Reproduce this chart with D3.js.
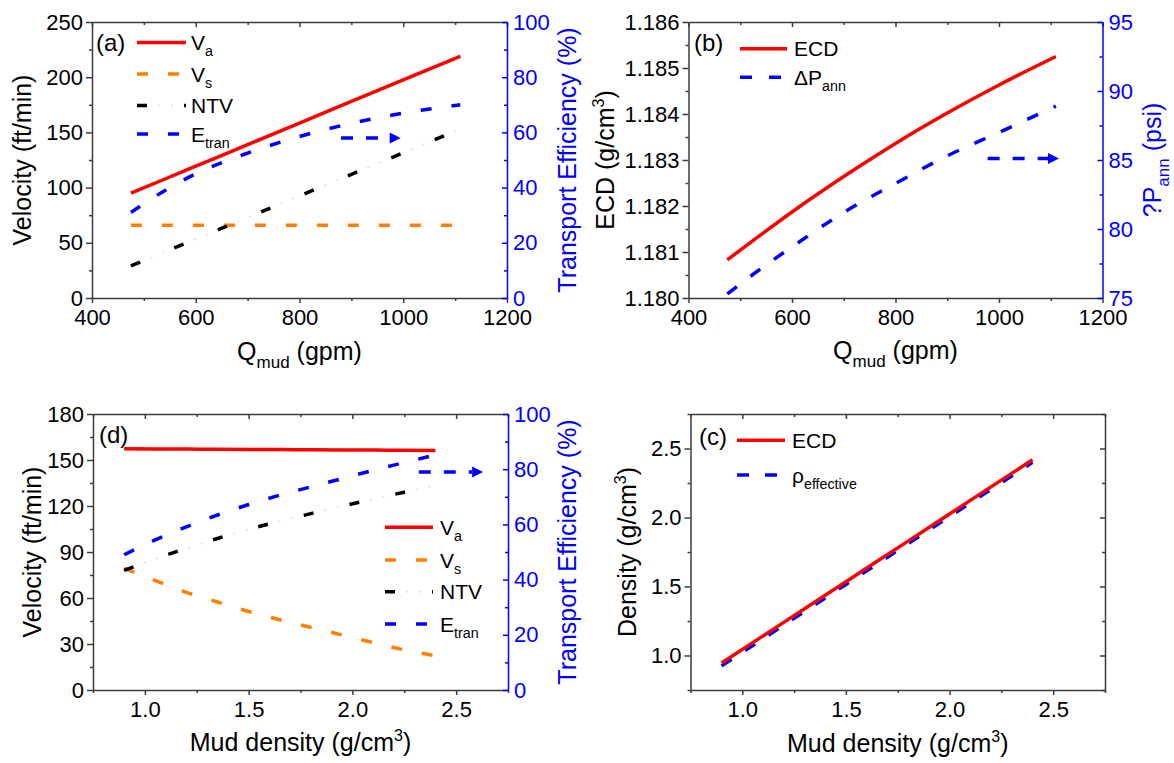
<!DOCTYPE html>
<html>
<head>
<meta charset="utf-8">
<script src="https://cdn.jsdelivr.net/npm/d3@7"></script>
<style>
  body { margin: 0; background: #fff; }
  svg { display: block; font-family: "Liberation Sans", Arial, Helvetica, sans-serif; }
</style>
</head>
<body>
<svg id="fig" width="1174" height="763"></svg>
<script>
// ---------- data ----------
// (a) velocities and transport efficiency vs. mud flow rate
const qA      = [475, 550, 600, 700, 800, 900, 1000, 1110];
const vaA     = [95.0, 109.6, 119.4, 138.9, 158.5, 178.0, 197.5, 219.0];
const vsA     = [66, 66, 66, 66, 66, 66, 66, 66];
const ntvA    = [29.0, 43.6, 53.4, 72.9, 92.5, 112.0, 131.5, 153.0];
const etranA  = [31.0, 40.0, 45.0, 52.5, 58.5, 63.3, 67.0, 70.0];

// (b) ECD and annular pressure loss vs. mud flow rate
const qB      = [475, 550, 600, 700, 800, 900, 1000, 1110];
const ecdB    = [1.18083, 1.18146, 1.18187, 1.18264, 1.18336, 1.18402, 1.18463, 1.18525];
const dpB     = [75.3, 77.4, 78.7, 81.2, 83.3, 85.3, 87.0, 88.9];

// (d) velocities and transport efficiency vs. mud density
const rhoD    = [0.9, 1.05, 1.2, 1.35, 1.5, 1.65, 1.8, 1.95, 2.1, 2.25, 2.4];
const vaD     = [157.3, 157.2, 157.1, 157.0, 156.9, 156.8, 156.7, 156.6, 156.5, 156.3, 156.2];
const vsD     = [79.5, 71.3, 63.7, 57.4, 51.2, 45.8, 40.8, 35.9, 30.9, 26.2, 22.4];
const ntvD    = [78.0, 85.5, 92.5, 98.8, 104.8, 110.0, 115.0, 119.8, 124.5, 129.0, 133.4];
const etranD  = [49.0, 54.4, 59.1, 63.4, 67.2, 70.6, 73.6, 76.6, 79.6, 82.4, 85.2];

// (c) ECD and effective density vs. mud density
const rhoC    = [0.9, 1.2, 1.5, 1.8, 2.1, 2.4];
const ecdC    = [0.946, 1.240, 1.535, 1.829, 2.124, 2.418];
const effC    = [0.925, 1.220, 1.515, 1.810, 2.105, 2.400];

// tick values
const qTicks      = [400, 600, 800, 1000, 1200];
const qMinor      = [500, 700, 900, 1100];
const velTicksA   = [0, 50, 100, 150, 200, 250];
const velMinorA   = [25, 75, 125, 175, 225];
const effTicks    = [0, 20, 40, 60, 80, 100];
const effMinor    = [10, 30, 50, 70, 90];
const ecdTicksB   = [1.180, 1.181, 1.182, 1.183, 1.184, 1.185, 1.186];
const ecdMinorB   = [1.1805, 1.1815, 1.1825, 1.1835, 1.1845, 1.1855];
const dpTicks     = [75, 80, 85, 90, 95];
const dpMinor     = [77.5, 82.5, 87.5, 92.5];
const rhoTicks    = [1.0, 1.5, 2.0, 2.5];
const rhoMinor    = [0.75, 1.25, 1.75, 2.25, 2.75];
const velTicksD   = [0, 30, 60, 90, 120, 150, 180];
const velMinorD   = [15, 45, 75, 105, 135, 165];
const denTicksC   = [1.0, 1.5, 2.0, 2.5];
const denMinorC   = [0.75, 1.25, 1.75, 2.25, 2.75];

// ---------- styles ----------
const RED = "#ff0000", BLUE = "#0000ff", ORANGE = "#ff8000", AX = "#3c3c3c";
const S_VA   = [{ stroke: RED, w: 3.5, dash: null }];
const S_VS   = [{ stroke: ORANGE, w: 3.5, dash: "11,20" }];
const S_NTV  = [{ stroke: "#000", w: 3.5, dash: "10,37" }, { stroke: "#dcdcdc", w: 1.6, dash: "0,21,2,11,2,11" }];
const S_ET   = [{ stroke: BLUE, w: 3.5, dash: "11,20" }];
const S_ECD  = [{ stroke: RED, w: 3.5, dash: null }];
const S_DP   = [{ stroke: BLUE, w: 3.5, dash: "12,17" }];
const S_EFF  = [{ stroke: BLUE, w: 3.5, dash: "12,16" }];

const TICK_FS = 22, TITLE_FS = 25, LEG_FS = 21, TAG_FS = 24;

const svg = d3.select("#fig");

// ---------- helpers ----------
function styleAxis(a, color, textColor, noDomain) {
  a.attr("font-size", TICK_FS).attr("font-family", null);
  if (noDomain) a.select(".domain").remove();
  else a.select(".domain").attr("stroke", color).attr("stroke-width", 1.5);
  a.selectAll(".tick line").attr("stroke", color).attr("stroke-width", 1.5);
  a.selectAll(".tick text").attr("fill", textColor || "#000");
  return a;
}
function addAxis(g, gen, tx, ty, color, textColor, noDomain) {
  const a = g.append("g").attr("transform", `translate(${tx},${ty})`).call(gen);
  return styleAxis(a, color, textColor, noDomain);
}

// text with sub/superscript parts
function rich(sel, parts, size) {
  let shift = 0;
  parts.forEach(p => {
    const t = sel.append("tspan").text(p.t);
    let target = 0, fs = size;
    if (p.sub) { target = 0.3 * size; fs = 0.68 * size; }
    if (p.sup) { target = -0.42 * size; fs = 0.64 * size; }
    t.attr("font-size", fs);
    if (target !== shift) { t.attr("dy", target - shift); shift = target; }
  });
  return sel;
}

function series(g, xs, ys, xs_, ys_, styles) {
  const line = d3.line()
    .x((d, i) => xs_(xs[i]))
    .y(d => ys_(d))
    .curve(d3.curveMonotoneX);
  styles.forEach(s => {
    g.append("path").datum(ys)
      .attr("d", line)
      .attr("fill", "none")
      .attr("stroke", s.stroke)
      .attr("stroke-width", s.w)
      .attr("stroke-dasharray", s.dash)
      .attr("stroke-linecap", "butt");
  });
}

function legendRow(g, x0, x1, y, styles, parts, tx) {
  styles.forEach(s => {
    g.append("line").attr("x1", x0).attr("x2", x1).attr("y1", y).attr("y2", y)
      .attr("stroke", s.stroke).attr("stroke-width", s.w)
      .attr("stroke-dasharray", s.dash);
  });
  rich(g.append("text").attr("x", tx).attr("y", y + 7.5).attr("font-size", LEG_FS).attr("fill", "#000"), parts, LEG_FS);
}

function arrow(g, xa, xb, yv, color) {
  const head = 11, half = 5.5;
  g.append("line").attr("x1", xa).attr("x2", xb - head).attr("y1", yv).attr("y2", yv)
    .attr("stroke", color).attr("stroke-width", 3.5).attr("stroke-dasharray", "12,13");
  g.append("path")
    .attr("d", `M${xb},${yv} L${xb - head},${yv - half} L${xb - head},${yv + half} Z`)
    .attr("fill", color);
}

function panel(cfg) {
  const b = cfg.box;
  const g = svg.append("g");
  const x = d3.scaleLinear().domain(cfg.xDom).range([b.x0, b.x1]);
  const y = d3.scaleLinear().domain(cfg.yDom).range([b.y1, b.y0]);
  const yR = cfg.yRDom ? d3.scaleLinear().domain(cfg.yRDom).range([b.y1, b.y0]) : null;

  // top mirror axis (ticks inward)
  addAxis(g, d3.axisTop(x).tickValues(cfg.xMinor).tickSize(-3).tickFormat("").tickSizeOuter(0), 0, b.y0, AX, null, true);
  addAxis(g, d3.axisTop(x).tickValues(cfg.xTicks).tickSize(-5).tickFormat("").tickSizeOuter(0), 0, b.y0, AX);
  // bottom axis
  addAxis(g, d3.axisBottom(x).tickValues(cfg.xMinor).tickSize(3).tickFormat("").tickSizeOuter(0), 0, b.y1, AX, null, true);
  addAxis(g, d3.axisBottom(x).tickValues(cfg.xTicks).tickSize(5).tickPadding(6).tickFormat(cfg.xFmt).tickSizeOuter(0), 0, b.y1, AX);
  // left axis
  addAxis(g, d3.axisLeft(y).tickValues(cfg.yMinor).tickSize(3).tickFormat("").tickSizeOuter(0), b.x0, 0, AX, null, true);
  addAxis(g, d3.axisLeft(y).tickValues(cfg.yTicks).tickSize(6).tickPadding(3).tickFormat(cfg.yFmt).tickSizeOuter(0), b.x0, 0, AX);
  // right axis
  if (yR) {
    addAxis(g, d3.axisRight(yR).tickValues(cfg.yRMinor).tickSize(-3).tickFormat("").tickSizeOuter(0), b.x1, 0, BLUE, null, true);
    addAxis(g, d3.axisRight(yR).tickValues(cfg.yRTicks).tickSize(-5).tickPadding(6).tickFormat(d3.format("d")).tickSizeOuter(0), b.x1, 0, BLUE, BLUE);
  } else {
    addAxis(g, d3.axisRight(y).tickValues(cfg.yMinor).tickSize(-3).tickFormat("").tickSizeOuter(0), b.x1, 0, AX, null, true);
    addAxis(g, d3.axisRight(y).tickValues(cfg.yTicks).tickSize(-5).tickFormat("").tickSizeOuter(0), b.x1, 0, AX);
  }

  // axis titles
  const cx = (b.x0 + b.x1) / 2, cy = (b.y0 + b.y1) / 2;
  rich(g.append("text").attr("x", cx).attr("y", b.y1 + cfg.xTitleDy).attr("text-anchor", "middle")
    .attr("font-size", TITLE_FS).attr("fill", "#000"), cfg.xTitle, TITLE_FS);
  rich(g.append("text").attr("transform", `translate(${cfg.yTitleX},${cy}) rotate(-90)`)
    .attr("text-anchor", "middle").attr("font-size", TITLE_FS).attr("fill", "#000"), cfg.yTitle, TITLE_FS);
  if (cfg.yRTitle) {
    rich(g.append("text").attr("transform", `translate(${cfg.yRTitleX},${cy}) rotate(-90)`)
      .attr("text-anchor", "middle").attr("font-size", TITLE_FS).attr("fill", BLUE), cfg.yRTitle, TITLE_FS);
  }
  // panel tag
  g.append("text").attr("x", cfg.tag[1]).attr("y", cfg.tag[2]).attr("font-size", TAG_FS)
    .attr("fill", "#000").text(cfg.tag[0]);

  return { g, x, y, yR };
}

// ---------- panel (a) ----------
{
  const p = panel({
    box: { x0: 92, x1: 507, y0: 22, y1: 298 },
    xDom: [400, 1200], yDom: [0, 250], yRDom: [0, 100],
    xTicks: qTicks, xMinor: qMinor, xFmt: d3.format("d"),
    yTicks: velTicksA, yMinor: velMinorA, yFmt: d3.format("d"),
    yRTicks: effTicks, yRMinor: effMinor,
    xTitle: [{ t: "Q" }, { t: "mud", sub: true }, { t: " (gpm)" }], xTitleDy: 62,
    yTitle: [{ t: "Velocity (ft/min)" }], yTitleX: 31,
    yRTitle: [{ t: "Transport Efficiency (%)" }], yRTitleX: 576,
    tag: ["(a)", 96, 51]
  });
  series(p.g, qA, vaA, p.x, p.y, S_VA);
  series(p.g, qA, vsA, p.x, p.y, S_VS);
  series(p.g, qA, ntvA, p.x, p.y, S_NTV);
  series(p.g, qA, etranA, p.x, p.yR, S_ET);
  arrow(p.g, p.x(880), p.x(995), p.yR(58), BLUE);
  legendRow(p.g, 137, 186, 42.5, S_VA, [{ t: "V" }, { t: "a", sub: true }], 191);
  legendRow(p.g, 137, 186, 74, S_VS, [{ t: "V" }, { t: "s", sub: true }], 191);
  legendRow(p.g, 137, 186, 105.5, S_NTV, [{ t: "NTV" }], 191);
  legendRow(p.g, 137, 186, 134, S_ET, [{ t: "E" }, { t: "tran", sub: true }], 191);
}

// ---------- panel (b) ----------
{
  const p = panel({
    box: { x0: 688.5, x1: 1102.5, y0: 22, y1: 298 },
    xDom: [400, 1200], yDom: [1.180, 1.186], yRDom: [75, 95],
    xTicks: qTicks, xMinor: qMinor, xFmt: d3.format("d"),
    yTicks: ecdTicksB, yMinor: ecdMinorB, yFmt: d3.format(".3f"),
    yRTicks: dpTicks, yRMinor: dpMinor,
    xTitle: [{ t: "Q" }, { t: "mud", sub: true }, { t: " (gpm)" }], xTitleDy: 61,
    yTitle: [{ t: "ECD (g/cm" }, { t: "3", sup: true }, { t: ")" }], yTitleX: 614,
    yRTitle: [{ t: "?P" }, { t: "ann", sub: true }, { t: " (psi)" }], yRTitleX: 1161,
    tag: ["(b)", 694, 51]
  });
  series(p.g, qB, ecdB, p.x, p.y, S_ECD);
  series(p.g, qB, dpB, p.x, p.yR, S_DP);
  arrow(p.g, p.x(978), p.x(1116), p.yR(85.1), BLUE);
  legendRow(p.g, 740, 787, 48.7, S_ECD, [{ t: "ECD" }], 794);
  legendRow(p.g, 740, 787, 77.3, S_DP, [{ t: "\u0394P" }, { t: "ann", sub: true }], 794);
}

// ---------- panel (d) ----------
{
  const p = panel({
    box: { x0: 93, x1: 508, y0: 414, y1: 690 },
    xDom: [0.75, 2.75], yDom: [0, 180], yRDom: [0, 100],
    xTicks: rhoTicks, xMinor: rhoMinor, xFmt: d3.format(".1f"),
    yTicks: velTicksD, yMinor: velMinorD, yFmt: d3.format("d"),
    yRTicks: effTicks, yRMinor: effMinor,
    xTitle: [{ t: "Mud density (g/cm" }, { t: "3", sup: true }, { t: ")" }], xTitleDy: 61,
    yTitle: [{ t: "Velocity (ft/min)" }], yTitleX: 41,
    yRTitle: [{ t: "Transport Efficiency (%)" }], yRTitleX: 576,
    tag: ["(d)", 99, 443]
  });
  series(p.g, rhoD, vaD, p.x, p.y, S_VA);
  series(p.g, rhoD, vsD, p.x, p.y, S_VS);
  series(p.g, rhoD, ntvD, p.x, p.y, S_NTV);
  series(p.g, rhoD, etranD, p.x, p.yR, S_ET);
  arrow(p.g, p.x(2.32), p.x(2.63), p.yR(79), BLUE);
  legendRow(p.g, 385, 433, 527.3, S_VA, [{ t: "V" }, { t: "a", sub: true }], 440);
  legendRow(p.g, 385, 433, 560, S_VS, [{ t: "V" }, { t: "s", sub: true }], 440);
  legendRow(p.g, 385, 433, 591.7, S_NTV, [{ t: "NTV" }], 440);
  legendRow(p.g, 385, 433, 624, S_ET, [{ t: "E" }, { t: "tran", sub: true }], 440);
}

// ---------- panel (c) ----------
{
  const p = panel({
    box: { x0: 690.5, x1: 1105, y0: 414, y1: 690 },
    xDom: [0.75, 2.75], yDom: [0.75, 2.75], yRDom: null,
    xTicks: rhoTicks, xMinor: rhoMinor, xFmt: d3.format(".1f"),
    yTicks: denTicksC, yMinor: denMinorC, yFmt: d3.format(".1f"),
    xTitle: [{ t: "Mud density (g/cm" }, { t: "3", sup: true }, { t: ")" }], xTitleDy: 62,
    yTitle: [{ t: "Density (g/cm" }, { t: "3", sup: true }, { t: ")" }], yTitleX: 636,
    yRTitle: null,
    tag: ["(c)", 699, 445]
  });
  series(p.g, rhoC, effC, p.x, p.y, S_EFF);
  series(p.g, rhoC, ecdC, p.x, p.y, S_ECD);
  legendRow(p.g, 737, 785, 440.3, S_ECD, [{ t: "ECD" }], 792);
  legendRow(p.g, 737, 785, 475, S_EFF, [{ t: "\u03C1" }, { t: "effective", sub: true }], 792);
}
</script>
</body>
</html>
